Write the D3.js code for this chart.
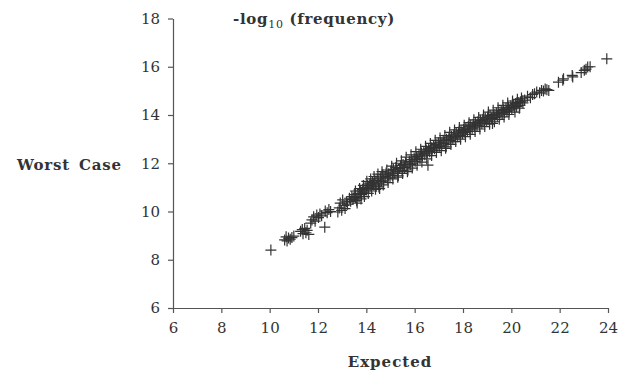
<!DOCTYPE html>
<html>
<head>
<meta charset="utf-8">
<script src="https://cdn.jsdelivr.net/npm/d3@7"></script>
<style>
  body { margin: 0; background: #fff; }
  text { font-family: "DejaVu Serif", serif; fill: #333; }
</style>
</head>
<body>
<div id="chart"></div>
<script>
// expected vs worst case, -log10(frequency)
const expected = [
  10.05,
  10.62, 10.68, 10.72, 10.78, 10.85, 10.92, 11.00,
  11.28, 11.35, 11.38, 11.45, 11.50, 11.55, 11.62,
  11.70, 11.75, 11.82, 11.88, 11.95, 12.02, 12.08, 12.15,
  12.28,
  12.30, 12.38, 12.45, 12.52,
  12.82, 12.88, 12.92, 12.98, 13.02, 13.08, 13.12, 13.18, 13.22,
  13.30, 13.35, 13.40, 13.45, 13.50, 13.55, 13.60, 13.65, 13.70, 13.75, 13.80, 13.85, 13.90,
  13.95, 14.00, 14.05, 14.10, 14.15, 14.20, 14.25, 14.30, 14.35, 14.40, 14.45, 14.50, 14.55, 14.58, 14.62, 14.68, 14.72, 14.78, 14.82, 14.88, 14.92,
  14.98, 15.02, 15.08, 15.12, 15.18, 15.22, 15.28, 15.32, 15.38, 15.42, 15.48, 15.52, 15.58, 15.62, 15.68, 15.72, 15.78, 15.82, 15.88, 15.92, 15.98,
  16.02, 16.08, 16.12, 16.18, 16.22, 16.28, 16.32, 16.38, 16.42, 16.48, 16.55, 16.52, 16.58, 16.62, 16.68, 16.72, 16.78, 16.82, 16.88, 16.92, 16.98,
  17.02, 17.08, 17.12, 17.18, 17.22, 17.28, 17.32, 17.38, 17.42, 17.48, 17.52, 17.58, 17.62, 17.68, 17.72, 17.78, 17.82, 17.88, 17.92, 17.98,
  18.02, 18.08, 18.12, 18.18, 18.22, 18.28, 18.32, 18.38, 18.42, 18.48, 18.52, 18.58, 18.62, 18.68, 18.72, 18.78, 18.82, 18.88, 18.92, 18.98,
  19.02, 19.08, 19.12, 19.18, 19.22, 19.28, 19.32, 19.38, 19.42, 19.48, 19.52, 19.58, 19.62, 19.68, 19.72, 19.78, 19.82, 19.88, 19.92, 19.98,
  20.02, 20.08, 20.12, 20.18, 20.22, 20.28, 20.33, 20.38, 20.42, 20.48, 20.55,
  20.67, 20.79, 20.88, 20.96, 21.05, 21.17, 21.25, 21.33, 21.40, 21.47, 21.55,
  21.95, 22.13, 22.16, 22.52, 22.54, 22.89, 23.02, 23.09, 23.16, 23.26, 23.95,
  13.55, 13.62, 13.72, 13.78, 13.88, 13.92,
  14.02, 14.08, 14.18, 14.22, 14.32, 14.38, 14.48, 14.52, 14.65, 14.70, 14.85, 14.90,
  15.05, 15.10, 15.25, 15.30, 15.45, 15.50, 15.65, 15.70, 15.85, 15.90,
  16.05, 16.10, 16.25, 16.30, 16.45, 16.50, 16.65, 16.70, 16.85, 16.90,
  17.05, 17.10, 17.25, 17.30, 17.45, 17.50, 17.65, 17.70, 17.85, 17.90,
  18.05, 18.10, 18.25, 18.30, 18.45, 18.50, 18.65, 18.70, 18.85, 18.90,
  19.05, 19.10, 19.25, 19.30, 19.45, 19.50, 19.65, 19.70, 19.85, 19.90,
  20.05, 20.15, 20.25, 20.35, 20.45
];
const worstCase = [
  8.40,
  8.82, 8.95, 8.78, 8.90, 8.85, 8.92, 8.98,
  9.18, 9.25, 9.08, 9.30, 9.12, 9.22, 9.05,
  9.52, 9.65, 9.78, 9.60, 9.85, 9.75, 9.90, 9.82,
  9.35,
  10.02, 9.95, 10.08, 10.00,
  9.98, 10.15, 10.35, 10.05, 10.48, 10.25, 10.12, 10.40, 10.30,
  10.55, 10.42, 10.62, 10.50, 10.70, 10.58, 10.45, 10.75, 10.62, 10.85, 10.70, 10.92, 10.80,
  11.00, 10.90, 11.08, 10.95, 11.15, 11.02, 11.20, 11.10, 11.28, 11.05, 11.35, 11.18, 10.95, 11.40, 11.25, 11.52, 11.30, 11.45, 11.60, 11.38, 11.55,
  11.42, 11.68, 11.50, 11.75, 11.58, 11.82, 11.65, 11.48, 11.78, 11.90, 11.70, 11.95, 11.82, 12.02, 11.88, 11.72, 12.08, 11.95, 12.15, 12.00, 12.22,
  12.08, 12.28, 12.15, 12.35, 12.20, 12.42, 12.30, 12.48, 12.35, 12.55, 11.92, 12.42, 12.60, 12.48, 12.65, 12.52, 12.72, 12.60, 12.78, 12.65, 12.85,
  12.70, 12.88, 12.75, 12.95, 12.82, 12.62, 13.00, 12.88, 13.08, 12.95, 13.12, 13.00, 13.18, 13.05, 13.25, 13.10, 13.30, 13.15, 13.35, 13.22,
  13.40, 13.28, 13.45, 13.32, 13.52, 13.38, 13.58, 13.45, 13.62, 13.50, 13.68, 13.55, 13.72, 13.58, 13.78, 13.65, 13.82, 13.70, 13.88, 13.75,
  13.92, 13.80, 13.98, 13.85, 13.65, 14.02, 13.90, 14.08, 13.95, 14.12, 14.00, 14.18, 14.05, 14.22, 14.10, 14.28, 14.15, 14.32, 14.20, 14.38,
  14.25, 14.42, 14.30, 14.48, 14.35, 14.52, 14.28, 14.55, 14.70, 14.50, 14.62,
  14.78, 14.72, 14.85, 14.88, 14.95, 14.92, 15.02, 15.00, 15.08, 15.05, 15.02,
  15.36, 15.44, 15.50, 15.64, 15.58, 15.76, 15.85, 15.90, 15.99, 16.00, 16.33,
  10.85, 10.35, 10.95, 10.52, 11.08, 10.62,
  11.25, 10.75, 11.35, 10.85, 11.45, 10.92, 11.55, 11.02, 11.65, 11.10, 11.72, 11.20,
  11.88, 11.35, 12.00, 11.42, 12.10, 11.58, 12.25, 11.65, 12.35, 11.80,
  12.48, 11.92, 12.58, 12.05, 12.70, 12.18, 12.82, 12.32, 12.95, 12.45,
  13.05, 12.52, 13.15, 12.68, 13.28, 12.78, 13.38, 12.90, 13.48, 13.00,
  13.58, 13.10, 13.68, 13.20, 13.80, 13.32, 13.90, 13.42, 14.00, 13.52,
  14.12, 13.62, 14.20, 13.72, 14.30, 13.82, 14.40, 13.92, 14.50, 14.02,
  14.58, 14.12, 14.65, 14.40, 14.58
];
const xTicks = [6, 8, 10, 12, 14, 16, 18, 20, 22, 24];
const yTicks = [6, 8, 10, 12, 14, 16, 18];

const width = 623, height = 372;
const margin = { left: 173, right: 608, top: 18.5, bottom: 308 };

const svg = d3.select("#chart").append("svg")
  .attr("width", width)
  .attr("height", height);

const x = d3.scaleLinear().domain([6, 24]).range([margin.left, margin.right]);
const y = d3.scaleLinear().domain([6, 18]).range([margin.bottom, margin.top]);

// axes
const gx = svg.append("g")
  .attr("transform", `translate(0,${margin.bottom})`)
  .call(d3.axisBottom(x).tickValues(xTicks).tickSize(5).tickSizeOuter(0).tickPadding(9));
const gy = svg.append("g")
  .attr("transform", `translate(${margin.left},0)`)
  .call(d3.axisLeft(y).tickValues(yTicks).tickSize(5).tickSizeOuter(0).tickPadding(8));

[gx, gy].forEach(g => {
  g.selectAll(".domain").attr("stroke", "#555").attr("stroke-width", 1.2);
  g.selectAll(".tick line").attr("stroke", "#555").attr("stroke-width", 1.2);
  g.selectAll(".tick text")
    .style("font-family", '"DejaVu Serif", serif')
    .style("font-size", "15px")
    .attr("fill", "#333");
});

// points as plus signs
const pts = expected.map((e, i) => ({ e: e, w: worstCase[i] }));
const arm = 5.5;
svg.append("g")
  .selectAll("path")
  .data(pts)
  .enter()
  .append("path")
  .attr("d", d => `M${x(d.e) - arm},${y(d.w)}h${arm * 2}M${x(d.e)},${y(d.w) - arm}v${arm * 2}`)
  .attr("stroke", "#333")
  .attr("stroke-width", 1.2)
  .attr("fill", "none");

// labels
const title = svg.append("text")
  .attr("x", 233)
  .attr("y", 24)
  .style("font-size", "15px")
  .style("font-weight", "bold")
  .style("letter-spacing", "0.7px");
title.append("tspan").text("-log");
title.append("tspan").attr("dy", 4).style("font-size", "11px").style("font-weight", "normal").text("10");
title.append("tspan").attr("dy", -4).text(" (frequency)");

svg.append("text")
  .attr("x", 17)
  .attr("y", 170)
  .style("font-size", "15px")
  .style("font-weight", "bold")
  .style("letter-spacing", "0.8px")
  .style("word-spacing", "3px")
  .text("Worst Case");

svg.append("text")
  .attr("x", 390)
  .attr("y", 367)
  .attr("text-anchor", "middle")
  .style("font-size", "15px")
  .style("font-weight", "bold")
  .style("letter-spacing", "1px")
  .text("Expected");
</script>
</body>
</html>
